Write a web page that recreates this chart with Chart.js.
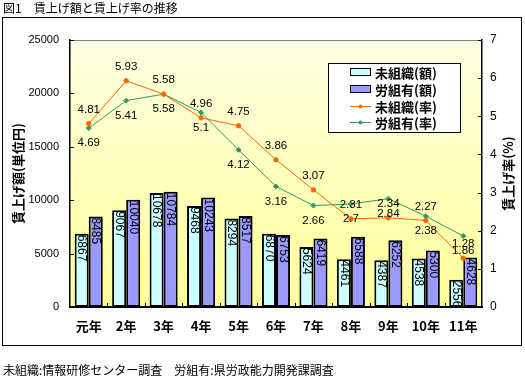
<!DOCTYPE html>
<html><head><meta charset="utf-8">
<script src="https://cdn.jsdelivr.net/npm/chart.js@4/dist/chart.umd.min.js"></script>
<style>html,body{margin:0;padding:0;background:#fff;}canvas{display:block;}</style>
</head><body>
<canvas id="c" width="525" height="380"></canvas>
<script>
const categories = ['元年','2年','3年','4年','5年','6年','7年','8年','9年','10年','11年'];
const unorgAmount = [6867, 9067, 10678, 9468, 8294, 6870, 5624, 4461, 4387, 4538, 2556];
const unionAmount = [8485, 10040, 10784, 10243, 8517, 6753, 6419, 6588, 6252, 5300, 4628];
const unorgRate = [4.81, 5.93, 5.58, 4.96, 4.75, 3.86, 3.07, 2.31, 2.34, 2.27, 1.28];
const unionRate = [4.69, 5.41, 5.58, 5.1, 4.12, 3.16, 2.66, 2.7, 2.84, 2.38, 1.86];
const seriesNames = ['未組織(額)','労組有(額)','未組織(率)','労組有(率)'];
const titleText = '図1　賃上げ額と賃上げ率の推移';
const footerText = '未組織:情報研修センター調査　労組有:県労政能力開発課調査';
const leftTitle = '賃上げ額(単位円)';
const rightTitle = '賃上げ率(%)';

const JP = "'Noto Sans CJK JP', sans-serif";
const NUM = "'Liberation Sans', Arial, sans-serif";
Chart.defaults.font.family = NUM;
Chart.defaults.color = '#000';

const colors = {cyan:'#CCFFFF', purple:'#9999FF', orange:'#FF6600', green:'#339966'};

const custom = {
  id: 'custom',
  beforeDraw(chart) {
    const ctx = chart.ctx, a = chart.chartArea;
    ctx.save();
    ctx.fillStyle = '#fff';
    ctx.fillRect(0,0,chart.width,chart.height);
    const g = ctx.createLinearGradient(0, a.top, 0, a.bottom);
    g.addColorStop(0, '#FFFFE2');
    g.addColorStop(1, '#FFFF99');
    ctx.fillStyle = g;
    ctx.fillRect(a.left, a.top, a.right - a.left, a.bottom - a.top);
    ctx.strokeStyle = '#808080'; ctx.lineWidth = 1;
    ctx.beginPath(); ctx.moveTo(a.left, a.top + 0.5); ctx.lineTo(a.right, a.top + 0.5); ctx.stroke();
    ctx.strokeStyle = '#000'; ctx.lineWidth = 1;
    ctx.strokeRect(2.5, 17.5, 519, 328);
    ctx.fillStyle = '#000';
    ctx.font = '12px ' + JP;
    ctx.textBaseline = 'middle'; ctx.textAlign = 'left';
    ctx.fillText(titleText, 3, 8);
    ctx.fillText(footerText, 3, 370);
    ctx.font = 'bold 13px ' + JP;
    ctx.textAlign = 'center';
    ctx.save(); ctx.translate(18, (a.top + a.bottom)/2); ctx.rotate(-Math.PI/2);
    ctx.fillText(leftTitle, 0, 0); ctx.restore();
    ctx.save(); ctx.translate(508, (a.top + a.bottom)/2); ctx.rotate(-Math.PI/2);
    ctx.fillText(rightTitle, 0, 0); ctx.restore();
    ctx.restore();
  },
  afterDatasetsDraw(chart) {
    const ctx = chart.ctx, a = chart.chartArea;
    ctx.save();
    ctx.strokeStyle = '#000'; ctx.lineWidth = 1;
    const y = chart.scales.y, y1 = chart.scales.y1;
    y.ticks.forEach(t => { const py = Math.round(y.getPixelForValue(t.value)) + 0.5;
      ctx.beginPath(); ctx.moveTo(a.left, py); ctx.lineTo(a.left + 4, py); ctx.stroke(); });
    y1.ticks.forEach(t => { const py = Math.round(y1.getPixelForValue(t.value)) + 0.5;
      ctx.beginPath(); ctx.moveTo(a.right, py); ctx.lineTo(a.right - 4, py); ctx.stroke(); });
    const cw = (a.right - a.left) / categories.length;
    for (let i = 1; i < categories.length; i++) {
      const px = Math.round(a.left + cw * i) + 0.5;
      ctx.beginPath(); ctx.moveTo(px, a.bottom); ctx.lineTo(px, a.bottom - 4); ctx.stroke();
    }
    ctx.fillStyle = '#000';
    ctx.font = '12px ' + NUM;
    [0,1].forEach(di => {
      const meta = chart.getDatasetMeta(di);
      meta.data.forEach((el, i) => {
        ctx.save();
        ctx.translate(el.x, el.y + 1);
        ctx.rotate(Math.PI/2);
        ctx.textAlign = 'left'; ctx.textBaseline = 'middle';
        ctx.fillText(String(chart.data.datasets[di].data[i]), 0, 0);
        ctx.restore();
      });
    });
    ctx.font = '11.5px ' + NUM;
    ctx.textAlign = 'center'; ctx.textBaseline = 'middle';
    [[2,-14],[3,15]].forEach(([di, off]) => {
      const meta = chart.getDatasetMeta(di);
      meta.data.forEach((el, i) => {
        ctx.fillText(String(chart.data.datasets[di].data[i]), el.x, el.y + off);
      });
    });
    const lx = 328.5, ly = 63.5, lw = 132, lh = 69;
    ctx.fillStyle = '#fff'; ctx.fillRect(lx, ly, lw, lh);
    ctx.strokeStyle = '#000'; ctx.strokeRect(lx, ly, lw, lh);
    const rows = [72, 89, 106, 122];
    ctx.font = 'bold 13px ' + JP;
    ctx.textAlign = 'left'; ctx.textBaseline = 'middle';
    rows.forEach((ry, i) => {
      if (i < 2) {
        ctx.fillStyle = i === 0 ? colors.cyan : colors.purple;
        ctx.fillRect(350.5, ry - 3.5, 20, 7);
        ctx.strokeStyle = '#000'; ctx.strokeRect(350.5, ry - 3.5, 20, 7);
      } else {
        const c = i === 2 ? colors.orange : colors.green;
        ctx.strokeStyle = c; ctx.lineWidth = 1;
        ctx.beginPath(); ctx.moveTo(350, ry + 0.5); ctx.lineTo(371, ry + 0.5); ctx.stroke();
        ctx.fillStyle = c; ctx.beginPath(); ctx.arc(360.5, ry + 0.5, 2, 0, Math.PI*2); ctx.fill();
      }
      ctx.fillStyle = '#000';
      ctx.fillText(seriesNames[i], 375, ry + 1);
    });
    ctx.restore();
  }
};

new Chart(document.getElementById('c'), {
  data: {
    labels: categories,
    datasets: [
      {type:'bar', label: seriesNames[0], data: unorgAmount, yAxisID:'y', backgroundColor: colors.cyan,
       borderColor:'#000', borderWidth: 2, borderSkipped: false, order: 2},
      {type:'bar', label: seriesNames[1], data: unionAmount, yAxisID:'y', backgroundColor: colors.purple,
       borderColor:'#000', borderWidth: 2, borderSkipped: false, order: 2},
      {type:'line', label: seriesNames[2], data: unorgRate, yAxisID:'y1', borderColor: colors.orange,
       backgroundColor: colors.orange, borderWidth: 1, pointRadius: 2.2, pointStyle:'circle', tension: 0, order: 0},
      {type:'line', label: seriesNames[3], data: unionRate, yAxisID:'y1', borderColor: colors.green,
       backgroundColor: colors.green, borderWidth: 1, pointRadius: 2.5, pointStyle:'rectRot', tension: 0, order: 1}
    ]
  },
  options: {
    responsive: false, animation: false,
    layout: {padding: {top: 40, left: 0, right: 0, bottom: 0}},
    plugins: {legend: {display: false}, tooltip: {enabled: false}, title: {display: false}},
    datasets: {bar: {categoryPercentage: 0.75, barPercentage: 1.0}},
    scales: {
      x: {
        type: 'category', offset: true,
        grid: {display: false, drawTicks: false},
        border: {color: '#000', width: 2},
        ticks: {font: {family: JP, size: 13, weight: 'bold'}, padding: 11, maxRotation: 0, autoSkip: false},
        afterFit(s) { s.height = 73; }
      },
      y: {
        position: 'left', min: 0, max: 25000,
        grid: {display: false, drawTicks: false},
        border: {color: '#000', width: 1.5},
        ticks: {stepSize: 5000, font: {size: 11}, padding: 11, callback: v => String(v)},
        afterFit(s) { s.width = 70; }
      },
      y1: {
        position: 'right', min: 0, max: 7,
        grid: {display: false, drawTicks: false},
        border: {color: '#000', width: 1.5},
        ticks: {stepSize: 1, font: {size: 12}, padding: 8, callback: v => String(v)},
        afterFit(s) { s.width = 43; }
      }
    }
  },
  plugins: [custom]
});
</script>
</body></html>
